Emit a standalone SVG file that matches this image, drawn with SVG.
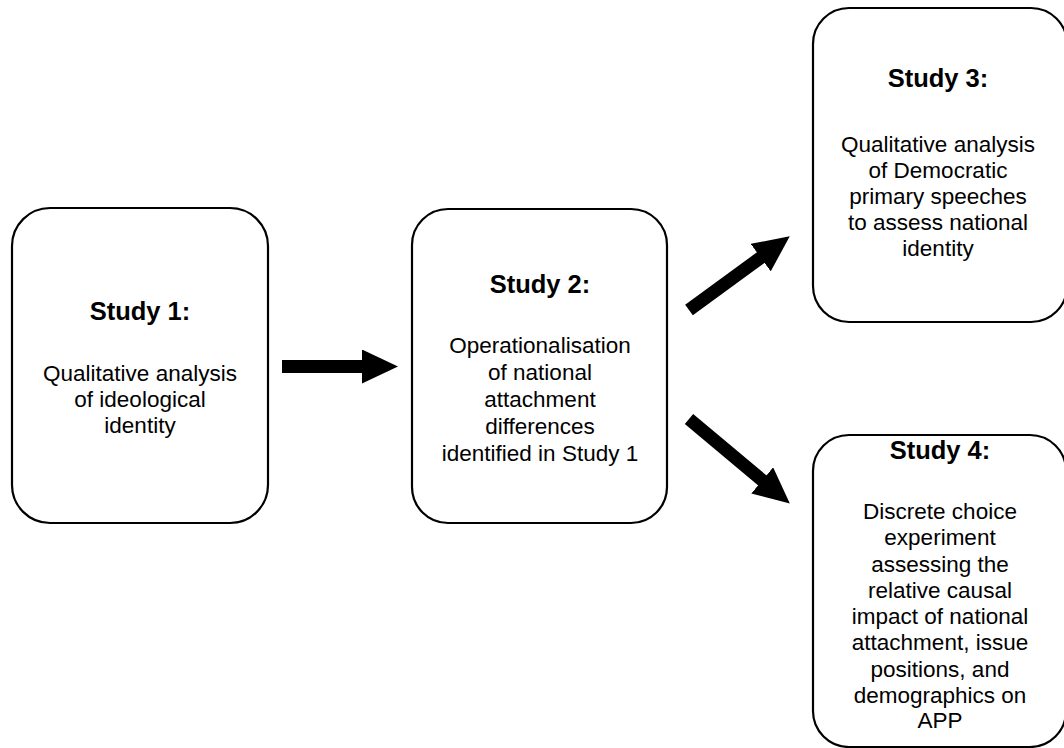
<svg xmlns="http://www.w3.org/2000/svg" width="1064" height="748" viewBox="0 0 1064 748">
<style>
.box{fill:#fff;stroke:#000;stroke-width:2.2}
.t{font-family:"Liberation Sans",Arial,sans-serif;font-weight:bold;font-size:25.5px;text-anchor:middle;fill:#000}
.b{font-family:"Liberation Sans",Arial,sans-serif;font-size:22.5px;text-anchor:middle;fill:#000}
.arr{stroke:#000;stroke-width:13;fill:none;marker-end:url(#head)}
</style>
<defs>
<marker id="head" markerUnits="userSpaceOnUse" viewBox="0 0 36 34" markerWidth="36" markerHeight="34" refX="1" refY="17" orient="auto">
<path d="M0,0 L36,17 L0,34 Z" fill="#000"/>
</marker>
</defs>
<rect width="1064" height="748" fill="#fff"/>
<g id="connectors">
<line class="arr" x1="282" y1="366.5" x2="363" y2="366.5"/>
<line class="arr" x1="689" y1="310" x2="761.5" y2="257"/>
<line class="arr" x1="689" y1="419" x2="763" y2="481"/>
</g>
<g id="study1">
<rect class="box" x="12" y="208" width="256" height="315" rx="38"/>
<text class="t" x="140" y="320">Study 1:</text>
<text class="b" x="140" y="381">Qualitative analysis</text>
<text class="b" x="140" y="407">of ideological</text>
<text class="b" x="140" y="433">identity</text>
</g>
<g id="study2">
<rect class="box" x="412" y="209" width="255" height="314" rx="36"/>
<text class="t" x="540" y="293">Study 2:</text>
<text class="b" x="540" y="353">Operationalisation</text>
<text class="b" x="540" y="380">of national</text>
<text class="b" x="540" y="407">attachment</text>
<text class="b" x="540" y="434">differences</text>
<text class="b" x="540" y="461">identified in Study 1</text>
</g>
<g id="study3">
<rect class="box" x="813" y="8" width="254" height="314" rx="36"/>
<text class="t" x="938" y="87">Study 3:</text>
<text class="b" x="938" y="152">Qualitative analysis</text>
<text class="b" x="938" y="178">of Democratic</text>
<text class="b" x="938" y="204">primary speeches</text>
<text class="b" x="938" y="230">to assess national</text>
<text class="b" x="938" y="256">identity</text>
</g>
<g id="study4">
<rect class="box" x="813" y="435" width="253" height="312" rx="36"/>
<text class="t" x="940" y="459">Study 4:</text>
<text class="b" x="940" y="519">Discrete choice</text>
<text class="b" x="940" y="545">experiment</text>
<text class="b" x="940" y="572">assessing the</text>
<text class="b" x="940" y="598">relative causal</text>
<text class="b" x="940" y="624">impact of national</text>
<text class="b" x="940" y="650">attachment, issue</text>
<text class="b" x="940" y="677">positions, and</text>
<text class="b" x="940" y="703">demographics on</text>
<text class="b" x="940" y="728">APP</text>
</g>
</svg>
